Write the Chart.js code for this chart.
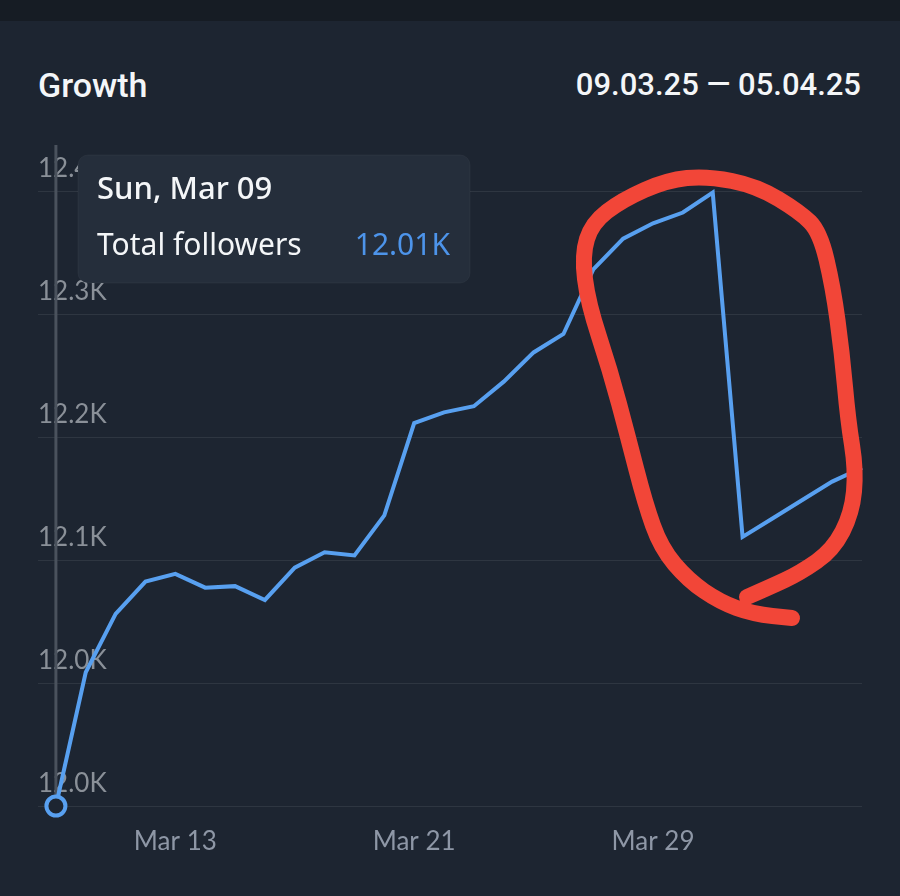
<!DOCTYPE html>
<html>
<head>
<meta charset="utf-8">
<script src="https://cdn.jsdelivr.net/npm/chart.js@4.4.1/dist/chart.umd.min.js"></script>
<style>
  body { margin: 0; background: #1d2531; }
  #wrap { position: relative; width: 900px; height: 896px; background: #1d2531; overflow: hidden; }
  #topbar { position: absolute; left: 0; top: 0; width: 900px; height: 21px; background: #161c24; }
  #title { position: absolute; left: 38px; top: 65px; font: 500 34px Roboto, sans-serif; color: #f4f6f8; }
  #range { position: absolute; right: 39px; top: 66px; font: 500 31px Roboto, sans-serif; color: #f4f6f8; }
  canvas { position: absolute; left: 0; top: 0; }
</style>
</head>
<body>
<div id="wrap">
  <div id="topbar"></div>
  <div id="title">Growth</div>
  <div id="range">09.03.25 — 05.04.25</div>
  <canvas id="myChart" width="900" height="896"></canvas>
</div>
<script>
const days = [
  "Mar 09", "Mar 10", "Mar 11", "Mar 12", "Mar 13", "Mar 14", "Mar 15",
  "Mar 16", "Mar 17", "Mar 18", "Mar 19", "Mar 20", "Mar 21", "Mar 22",
  "Mar 23", "Mar 24", "Mar 25", "Mar 26", "Mar 27", "Mar 28", "Mar 29",
  "Mar 30", "Mar 31", "Apr 01", "Apr 02", "Apr 03", "Apr 04", "Apr 05"
];
const weekNames = ["Sun", "Mon", "Tue", "Wed", "Thu", "Fri", "Sat"];
const followers = [
  12010, 12097, 12135, 12156, 12161, 12152, 12153,
  12144, 12165, 12175, 12173, 12199, 12259, 12266,
  12270, 12286, 12305, 12317, 12359, 12379, 12389,
  12396, 12409, 12185, 12197, 12209, 12221, 12230
];
const xTickDays = [4, 12, 20];
const yTicks = [12010, 12090, 12170, 12250, 12330, 12410];
const yTickLabels = ["12.0K", "12.0K", "12.1K", "12.2K", "12.3K", "12.4K"];
const seriesName = "Total followers";
const hoverIndex = 0;

const bg = "#1d2531";
const blue = "#58a0f0";

const overlay = {
  id: "overlay",
  beforeDatasetsDraw(chart) {
    const ctx = chart.ctx;
    const x = chart.scales.x.getPixelForValue(hoverIndex);
    ctx.save();
    ctx.strokeStyle = "#4a525d";
    ctx.lineWidth = 3;
    ctx.beginPath();
    ctx.moveTo(x, 145);
    ctx.lineTo(x, chart.chartArea.bottom);
    ctx.stroke();
    ctx.restore();
  },
  afterDraw(chart) {
    const ctx = chart.ctx;
    ctx.save();
    // tooltip box
    ctx.fillStyle = "#252e3b";
    ctx.strokeStyle = "rgba(255,255,255,0.04)";
    ctx.lineWidth = 1;
    ctx.beginPath();
    ctx.roundRect(78, 155, 392, 128, 10);
    ctx.fill();
    ctx.stroke();
    ctx.textBaseline = "middle";
    ctx.fillStyle = "#f4f6f8";
    ctx.font = "500 31px 'Noto Sans', sans-serif";
    ctx.textAlign = "left";
    ctx.fillText(weekNames[hoverIndex % 7] + ", " + days[hoverIndex], 97, 190);
    ctx.font = "30px 'Noto Sans', sans-serif";
    ctx.fillText(seriesName, 97, 246);
    ctx.fillStyle = "#4d94ea";
    ctx.textAlign = "right";
    ctx.fillText((followers[hoverIndex] / 1000).toFixed(2) + "K", 450, 246);

    // hand-drawn red mark
    const pts = [
      [747, 597], [770, 587], [800, 573], [833, 550], [852, 513], [856, 470],
      [848, 420], [842, 353], [833, 287], [820, 232], [800, 212], [757, 186],
      [707, 176], [667, 180], [622, 200], [592, 223], [582, 255], [588, 303],
      [610, 370], [628, 437], [645, 503], [661, 548], [688, 580], [720, 602],
      [753, 614], [792, 618]
    ];
    ctx.strokeStyle = "#f24638";
    ctx.lineWidth = 16;
    ctx.lineCap = "round";
    ctx.lineJoin = "round";
    ctx.beginPath();
    ctx.moveTo(pts[0][0], pts[0][1]);
    for (let i = 1; i < pts.length - 1; i++) {
      const mx = (pts[i][0] + pts[i + 1][0]) / 2;
      const my = (pts[i][1] + pts[i + 1][1]) / 2;
      ctx.quadraticCurveTo(pts[i][0], pts[i][1], mx, my);
    }
    ctx.lineTo(pts[pts.length - 1][0], pts[pts.length - 1][1]);
    ctx.stroke();
    ctx.restore();
  }
};

const ctx = document.getElementById("myChart").getContext("2d");

const myChart = new Chart(ctx, {
  type: "line",
  data: {
    datasets: [
      {
        label: seriesName,
        data: followers.map((v, i) => ({ x: i, y: v })),
        borderColor: blue,
        borderWidth: 4,
        tension: 0,
        clip: false,
        pointRadius: followers.map((v, i) => (i === hoverIndex ? 9.5 : 0)),
        pointBorderWidth: 4,
        pointBorderColor: blue,
        pointBackgroundColor: bg,
      },
    ],
  },
  plugins: [overlay],
  options: {
    responsive: false,
    animation: false,
    events: [],
    layout: {
      padding: { left: 38, right: 38, top: 191, bottom: 0 },
    },
    plugins: {
      legend: { display: false },
      tooltip: { enabled: false },
    },
    scales: {
      x: {
        type: "linear",
        min: -0.6,
        max: 27,
        afterBuildTicks: (scale) => {
          scale.ticks = xTickDays.map((d) => ({ value: d }));
        },
        afterFit: (scale) => {
          scale.height = 90;
        },
        grid: { display: false },
        border: { display: false },
        ticks: {
          color: "#8e97a6",
          font: { family: "Lato", size: 26 },
          padding: 12,
          maxRotation: 0,
          autoSkip: false,
          callback: (v) => days[v],
        },
      },
      y: {
        min: yTicks[0],
        max: yTicks[yTicks.length - 1],
        afterBuildTicks: (scale) => {
          scale.ticks = yTicks.map((v) => ({ value: v }));
        },
        afterFit: (scale) => {
          scale.width = 0;
        },
        grid: { color: "rgba(255,255,255,0.08)", lineWidth: 1, drawTicks: false },
        border: { display: false },
        ticks: {
          mirror: true,
          padding: 0,
          labelOffset: -22,
          color: "#8a9098",
          font: { family: "Lato", size: 26 },
          callback: (v, i) => yTickLabels[i],
        },
      },
    },
  },
});
</script>
</body>
</html>
